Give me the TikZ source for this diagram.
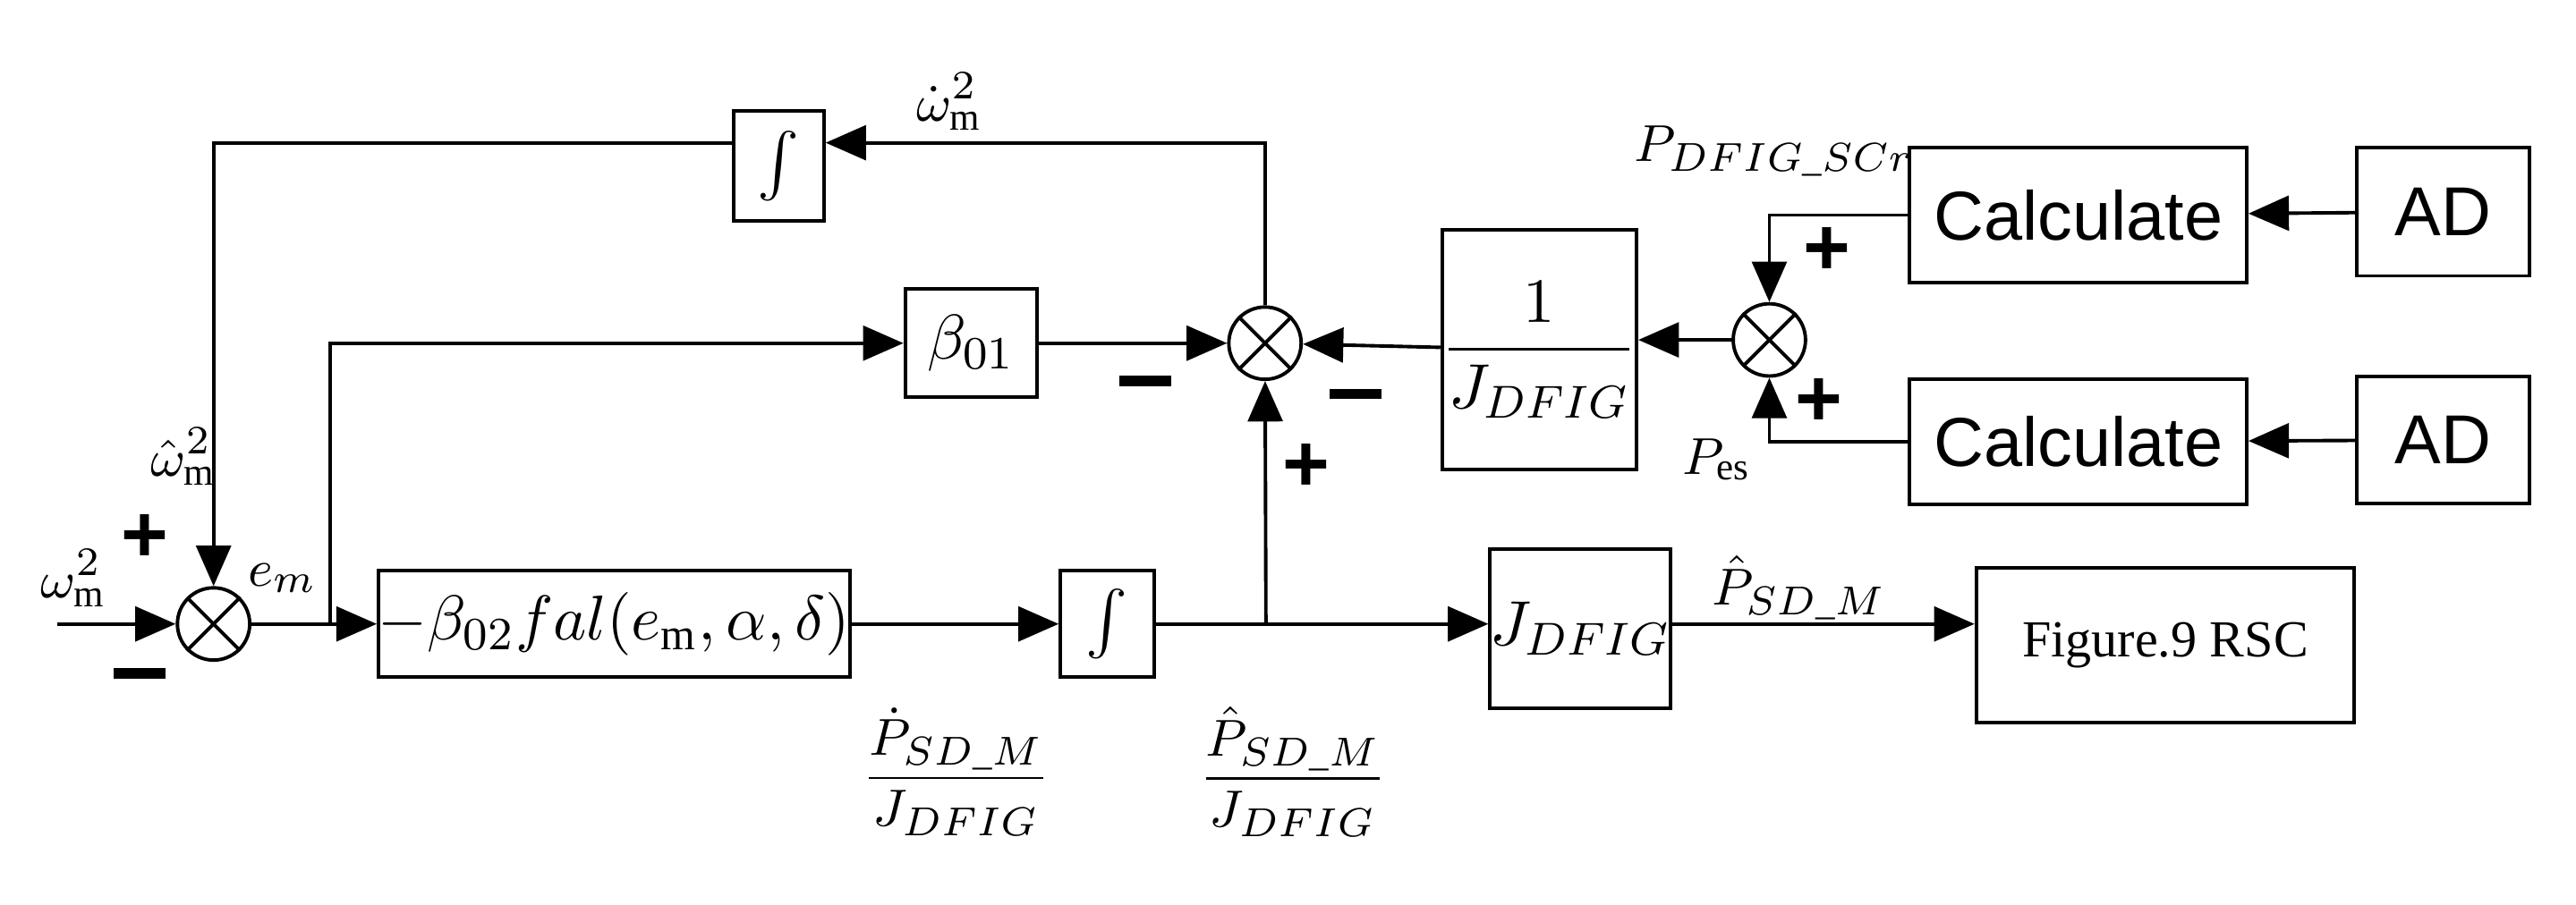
\documentclass[tikz,border=0pt]{standalone}
\usepackage{amsmath}
\usepackage{fontspec}
\setmainfont{Liberation Serif}
\newfontfamily\sans{Liberation Sans}
\usetikzlibrary{arrows.meta}
\begin{document}
\begin{tikzpicture}[x=0.01cm,y=-0.01cm,
  blk/.style={draw,line width=0.6pt,inner sep=0pt,minimum width=#1},
  sj/.style={draw,circle,line width=0.6pt,inner sep=0pt,minimum size=0.44cm},
  ar/.style={line width=0.6pt,-{Triangle[length=7pt,width=6pt]}},
  ln/.style={line width=0.6pt},
  bf/.style={font=\fontsize{11}{11}\selectfont},
  lab/.style={font=\fontsize{9.5}{9.5}\selectfont},
  sn/.style={font=\sans\fontsize{12}{12}\selectfont},
  sg/.style={font=\sans\bfseries\fontsize{14}{14}\selectfont}]
\useasboundingbox (0,0) rectangle (1568,551);
% junctions
\foreach \n/\x/\y in {s1/130/380,s2/770/209,s3/1077/207}{
  \node[sj] (\n) at (\x,\y) {};
  \draw[ln] (\n.45)--(\n.225) (\n.135)--(\n.315);}
% blocks
\node[blk=0.55cm,minimum height=0.67cm,bf] (i1) at (474,101) {$\int$};
\node[blk=0.8cm,minimum height=0.66cm,bf] (b1) at (591,209) {$\beta_{01}$};
\node[blk=2.74cm,minimum height=0.65cm,bf] (f) at (374,380) {$-\beta_{02}fal(e_{\rm m},\alpha,\delta)$};
\node[blk=0.57cm,minimum height=0.65cm,bf] (i2) at (674,380) {$\int$};
\node[blk=1.09cm,minimum height=0.97cm,bf] (J) at (962,383) {$J_{DFIG}$};
\node[blk=2.3cm,minimum height=0.94cm] (R) at (1318,393) {\fontsize{9}{9}\selectfont Figure.9 RSC};
\node[blk=1.09cm,minimum height=1.46cm,bf] (iJ) at (937,213) {$\dfrac{1}{J_{DFIG}}$};
\node[blk=2.05cm,minimum height=0.82cm,sn] (c1) at (1265,131) {Calculate};
\node[blk=2.05cm,minimum height=0.76cm,sn] (c2) at (1265,269) {Calculate};
\node[blk=1.05cm,minimum height=0.78cm,sn] (a1) at (1487,129) {AD};
\node[blk=1.05cm,minimum height=0.77cm,sn] (a2) at (1487,268) {AD};
\coordinate (in) at (35,380);
% connectors
\draw[ar] (in)--(s1);
\draw[ar] (s1)--(f);
\draw[ar] (s1.east)++(48,0) |- (b1);
\draw[ar] (f)--(i2);
\draw[ar] (i2)--(J.west|-i2);
\draw[ar] (i2.east)++(67,0) -- (s2);
\draw[ar] (J.east|-i2)--(R.west|-i2);
\draw[ar] (b1)--(s2);
\draw[ar] (iJ)--(s2);
\draw[ar] (s3)--(iJ.east|-s3);
\draw[ar] (s2.north) |- ([yshift=4pt]i1.east);
\draw[ar] ([yshift=4pt]i1.west) -| (s1);
\draw[ar] (c1.west) -| (s3);
\draw[ar] (c2.west) -| (s3);
\draw[ar] (a1)--(c1);
\draw[ar] (a2)--(c2);
% labels
\node[lab] at (45,352) {$\omega_{\rm m}^2$};
\node[sg] at (88,328) {+};
\node[sg] at (85,410) {\rule{9pt}{1.8pt}};
\node[lab] at (112,278) {$\hat{\omega}_{\rm m}^2$};
\node[lab] at (172,352) {$e_m$};
\node[lab] at (578,62) {$\dot{\omega}_{\rm m}^2$};
\node[sg] at (697,232) {\rule{9pt}{1.8pt}};
\node[sg] at (825,240) {\rule{9pt}{1.8pt}};
\node[sg] at (795,285) {+};
\node[lab] at (582,470) {$\dfrac{\dot{P}_{SD\_M}}{J_{DFIG}}$};
\node[lab] at (787,470) {$\dfrac{\hat{P}_{SD\_M}}{J_{DFIG}}$};
\node[lab] at (1095,358) {$\hat{P}_{SD\_M}$};
\node[lab] at (1080,92) {$P_{DFIG\_SCr}$};
\node[sg] at (1112,153) {+};
\node[sg] at (1107,245) {+};
\node[lab] at (1045,280) {$P_{\rm es}$};
\end{tikzpicture}
\end{document}
